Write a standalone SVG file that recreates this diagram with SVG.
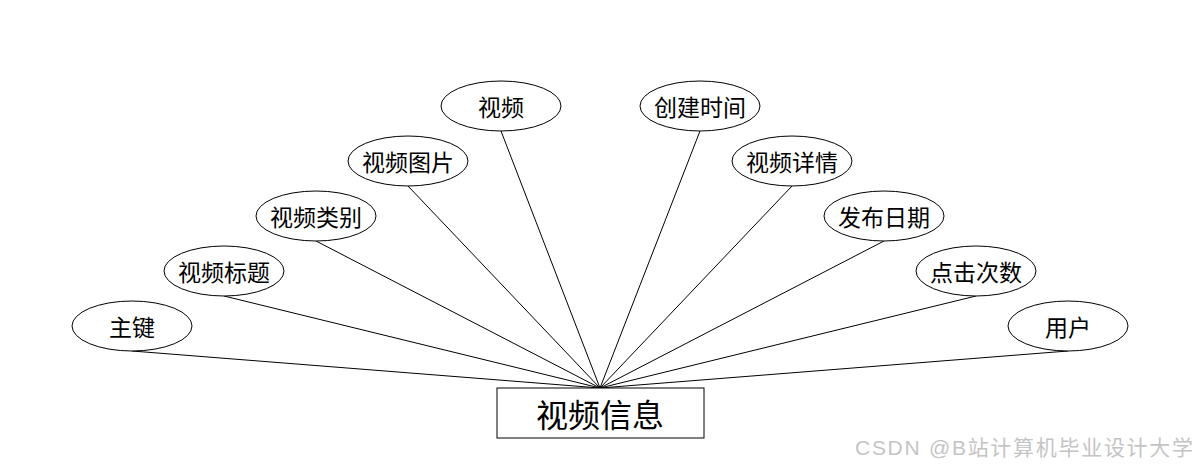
<svg xmlns="http://www.w3.org/2000/svg" width="1200" height="468" viewBox="0 0 1200 468">
<style>
.e{fill:#fff;stroke:#000;stroke-width:1}
.t{font-family:"Noto Sans CJK SC","Noto Sans",sans-serif;font-size:23px;fill:#000;text-anchor:middle;dominant-baseline:central}
.c line{stroke:#000;stroke-width:1}
</style>
<rect width="1200" height="468" fill="#fff"/>
<g class="c" id="connectors">
<line x1="132" y1="351" x2="600" y2="388"/>
<line x1="224" y1="296" x2="600" y2="388"/>
<line x1="316" y1="241" x2="600" y2="388"/>
<line x1="408" y1="186" x2="600" y2="388"/>
<line x1="501" y1="131" x2="600" y2="388"/>
<line x1="700" y1="131" x2="600" y2="388"/>
<line x1="792" y1="186" x2="600" y2="388"/>
<line x1="884" y1="241" x2="600" y2="388"/>
<line x1="976" y1="296" x2="600" y2="388"/>
<line x1="1068" y1="351" x2="600" y2="388"/>
</g>
<g id="n1"><ellipse class="e" cx="132" cy="326" rx="60" ry="25"/><text class="t" x="132" y="326">主键</text></g>
<g id="n2"><ellipse class="e" cx="224" cy="271" rx="60" ry="25"/><text class="t" x="224" y="271">视频标题</text></g>
<g id="n3"><ellipse class="e" cx="316" cy="216" rx="60" ry="25"/><text class="t" x="316" y="216">视频类别</text></g>
<g id="n4"><ellipse class="e" cx="408" cy="161" rx="60" ry="25"/><text class="t" x="408" y="161">视频图片</text></g>
<g id="n5"><ellipse class="e" cx="501" cy="106" rx="60" ry="25"/><text class="t" x="501" y="106">视频</text></g>
<g id="n6"><ellipse class="e" cx="700" cy="106" rx="60" ry="25"/><text class="t" x="700" y="106">创建时间</text></g>
<g id="n7"><ellipse class="e" cx="792" cy="161" rx="60" ry="25"/><text class="t" x="792" y="161">视频详情</text></g>
<g id="n8"><ellipse class="e" cx="884" cy="216" rx="60" ry="25"/><text class="t" x="884" y="216">发布日期</text></g>
<g id="n9"><ellipse class="e" cx="976" cy="271" rx="60" ry="25"/><text class="t" x="976" y="271">点击次数</text></g>
<g id="n10"><ellipse class="e" cx="1068" cy="326" rx="60" ry="25"/><text class="t" x="1068" y="326">用户</text></g>
<g id="main"><rect x="497" y="388" width="207" height="50" fill="#fff" stroke="#000" stroke-width="1"/><text class="t" x="600" y="413" style="font-size:32px">视频信息</text></g>
<text x="855" y="455" textLength="338" lengthAdjust="spacing" style="font-family:'Liberation Sans','Noto Sans CJK SC',sans-serif;font-size:21px;fill:#c4c4c4">CSDN @B站计算机毕业设计大学</text>
</svg>
